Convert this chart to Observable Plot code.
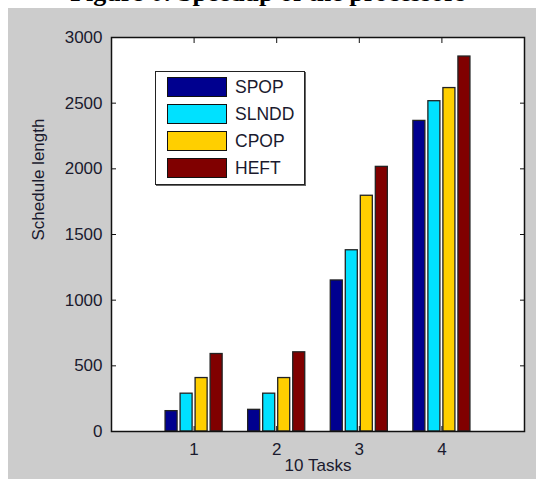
<!DOCTYPE html>
<html>
<head>
<meta charset="utf-8">
<script src="https://cdn.jsdelivr.net/npm/d3@7"></script>
<script src="https://cdn.jsdelivr.net/npm/@observablehq/plot@0.6"></script>
<style>
  html, body { margin: 0; padding: 0; background: #fff; width: 536px; height: 479px; overflow: hidden; }
  #title { position: absolute; left: 0; width: 536px; top: -22px; text-align: center;
           font: bold 26px "Liberation Serif", "Times New Roman", serif; color: #000; white-space: nowrap; }
  #bg { position: absolute; left: 8px; top: 8px; right: 0; bottom: 0; background: #cccccc; }
  #chart { position: absolute; left: 0; top: 0; }
  #legend { position: absolute; left: 155px; top: 71px; width: 148px; height: 112px;
            background: #fff; border: 1px solid #222; box-shadow: 1px 1px 0 #666; }
  .item { position: absolute; left: 11px; height: 20px; display: flex; align-items: center;
          font: 17.5px "Liberation Sans", Arial, sans-serif; color: #1a1a2e; }
  .sw { width: 58px; height: 18px; border: 1px solid #111; margin-right: 8px; }
</style>
</head>
<body>
<div id="title">Figure 6: Speedup of the processors</div>
<div id="bg"></div>
<div id="chart"></div>
<div id="legend"></div>
<script>
const tasks = [1, 2, 3, 4];
const series = ["SPOP", "SLNDD", "CPOP", "HEFT"];
const colors = ["#00008f", "#00e1ff", "#ffcf00", "#800000"];
const SPOP  = [155, 165, 1150, 2365];
const SLNDD = [288, 288, 1380, 2515];
const CPOP  = [407, 407, 1795, 2615];
const HEFT  = [590, 603, 2015, 2855];
const yTicks = [0, 500, 1000, 1500, 2000, 2500, 3000];
const xLabel = "10 Tasks";
const yLabel = "Schedule length";

const values = [SPOP, SLNDD, CPOP, HEFT];
// MATLAB grouped bar layout: group width n/(n+1.5), bar width 0.8 of slot
const slot = 4 / 5.5 / 4;
const data = [];
series.forEach((s, i) => {
  tasks.forEach((t, j) => {
    const c = t + (i - 1.5) * slot;
    data.push({series: s, task: t, value: values[i][j], x1: c - 0.4 * slot, x2: c + 0.4 * slot});
  });
});

const font = '"Liberation Sans", Arial, sans-serif';
const fs = 17;
const ink = "#1a1a2e";
const chart = Plot.plot({
  width: 536,
  height: 479,
  marginLeft: 111,
  marginRight: 12,
  marginTop: 37,
  marginBottom: 48,
  style: {background: "transparent", fontFamily: font, fontSize: fs + "px", color: ink},
  x: {domain: [0, 5]},
  y: {domain: [0, 3000]},
  color: {domain: series, range: colors},
  marks: [
    Plot.frame({fill: "white"}),
    Plot.rectY(data, {x1: "x1", x2: "x2", y1: 0, y2: "value", fill: "series", stroke: "#222", strokeWidth: 1.3}),
    Plot.axisY({anchor: "left", ticks: yTicks, tickSize: -5, tickPadding: 14, tickFormat: d => String(d), fontSize: fs, label: null, stroke: "#111"}),
    Plot.axisY({anchor: "right", ticks: yTicks, tickSize: -5, tickFormat: () => "", label: null, stroke: "#111"}),
    Plot.axisX({anchor: "bottom", ticks: tasks, tickSize: -5, tickPadding: 16, tickFormat: d => String(d), fontSize: fs, label: null, stroke: "#111"}),
    Plot.axisX({anchor: "top", ticks: tasks, tickSize: -5, tickFormat: () => "", label: null, stroke: "#111"}),
    Plot.text([xLabel], {frameAnchor: "bottom", dy: 39, text: d => d, fontSize: fs, fill: ink}),
    Plot.text([yLabel], {frameAnchor: "left", dx: -73, dy: 6, rotate: -90, text: d => d, fontSize: fs, fill: ink}),
    Plot.frame({stroke: "#111", strokeWidth: 1.5})
  ]
});
document.getElementById("chart").appendChild(chart);

const legend = document.getElementById("legend");
series.forEach((s, i) => {
  const item = document.createElement("div");
  item.className = "item";
  item.style.top = (5 + i * 27) + "px";
  const sw = document.createElement("div");
  sw.className = "sw";
  sw.style.background = colors[i];
  item.appendChild(sw);
  item.appendChild(document.createTextNode(s));
  legend.appendChild(item);
});
</script>
</body>
</html>
